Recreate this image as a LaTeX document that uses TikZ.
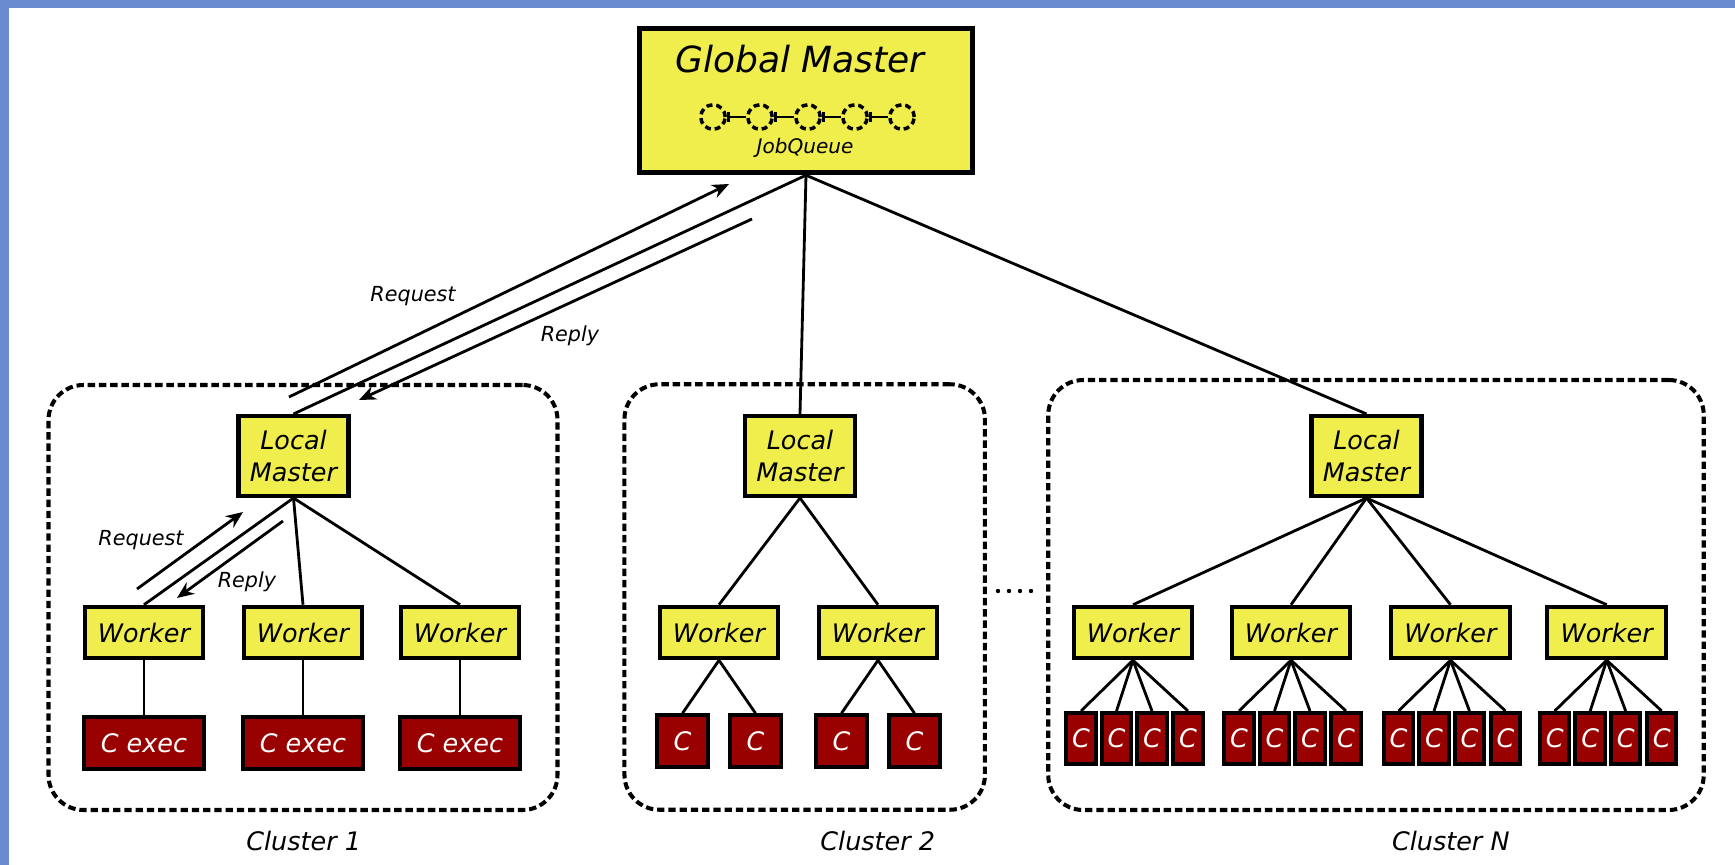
\documentclass[tikz,border=0pt]{standalone}
\usepackage{fontspec}
\setmainfont{DejaVu Sans}
\usetikzlibrary{positioning,arrows.meta,calc}
\definecolor{uYellow}{HTML}{EFEE4C}
\definecolor{uRed}{HTML}{990000}
\definecolor{uFrame}{HTML}{6A8BD0}
\tikzset{
  blk/.style={draw, line width=1.15pt, align=center, inner sep=0pt,
              font=\fontsize{7.25}{9.1}\selectfont\itshape},
  master/.style={blk, fill=uYellow, minimum width=11mm, minimum height=8mm},
  worker/.style={blk, fill=uYellow, minimum width=11.85mm, minimum height=5.15mm},
  cexec/.style={blk, fill=uRed, text=white, minimum width=12mm, minimum height=5.2mm},
  csq/.style={cexec, minimum width=5.1mm, minimum height=5.15mm},
  cnar/.style={cexec, minimum width=2.95mm, minimum height=5.1mm},
  gm/.style={draw, line width=1.4pt, fill=uYellow, minimum width=33.35mm,
             minimum height=14.45mm},
  qslot/.style={circle, draw, line width=1pt, dash pattern=on 1.7pt off 1.1pt,
                minimum size=2.45mm, inner sep=0pt},
  qlink/.style={{Bar[width=2.6pt]}-, line width=0.75pt},
  link/.style={line width=0.8pt},
  flow/.style={-{Stealth[length=4.8pt, width=4pt]}, line width=0.8pt},
  cluster/.style={draw, line width=1.15pt, dash pattern=on 2.1pt off 1.1pt,
                  rounded corners=3.5mm},
  lbl/.style={font=\fontsize{5.9}{7}\selectfont\itshape, inner sep=0pt, anchor=base},
  clab/.style={font=\fontsize{7.25}{9}\selectfont\itshape, inner sep=0pt, anchor=base},
}

\begin{document}
\begin{tikzpicture}[x=0.1mm, y=-0.1mm]

\fill[white] (0,0) rectangle (1735,865);
\useasboundingbox (0,0) rectangle (1735,865);
\fill[uFrame] (0,0) rectangle (1735,8);
\fill[uFrame] (0,0) rectangle (9,865);

%% -- clusters --------------------------------------------------------------
\node[cluster, minimum width=50.9mm, minimum height=42.5mm] (cl1) at (303,597.5) {};
\node[cluster, minimum width=36.05mm, minimum height=42.55mm] (cl2) at (804.7,597) {};
\node[cluster, minimum width=65.55mm, minimum height=43mm] (cln) at (1376,595) {};

\node[clab] (cl1lab) at (303.7,850) {Cluster 1};
\node[clab] (cl2lab) at (877.8,850) {Cluster 2};
\node[clab] (clnlab) at (1450.8,850) {Cluster N};

\foreach \x in {998,1009,1020,1031} \fill (\x,591) circle (2.2);

%% -- global master ---------------------------------------------------------
\node[gm] (gm) at (806,100.5) {};
\node[font=\fontsize{10.25}{12}\selectfont\itshape, inner sep=0pt, anchor=base]
  (gmt) at (800,73) {Global Master};
\foreach \i/\x in {1/713,2/760,3/808,4/855,5/902}
  \node[qslot] (q\i) at (\x,117) {};
\foreach \i/\j in {1/2,2/3,3/4,4/5}
  \draw[qlink] (q\i) -- (q\j);
\node[font=\fontsize{5.7}{7}\selectfont\itshape, inner sep=0pt, anchor=base]
  (jq) at (805,153) {JobQueue};

%% -- local masters ---------------------------------------------------------
\node[master] (lm1) at (293.5,456) {Local\\Master};
\node[master] (lm2) at (800,456) {Local\\Master};
\node[master] (lmn) at (1366.5,456) {Local\\Master};

\draw[link] (gm.south) -- (lm1.north);
\draw[link] (gm.south) -- (lm2.north);
\draw[link] (gm.south) -- (lmn.north);

\coordinate (rqA) at (289,397);
\coordinate (rqB) at (729,184);
\coordinate (rpA) at (752,219);
\coordinate (rpB) at (359,400);
\draw[flow] (rqA) -- (rqB);
\draw[flow] (rpA) -- (rpB);
\node[lbl] (rq0) at (413,301.7) {Request};
\node[lbl] (rp0) at (570,341.7) {Reply};

%% -- cluster 1 -------------------------------------------------------------
\foreach \k/\x in {1/144,2/303,3/460} {
  \node[worker] (w1\k) at (\x,632.5) {Worker};
  \node[cexec] (ce\k) at (\x,743) {C exec};
  \draw[link] (lm1.south) -- (w1\k.north);
  \draw[link] (w1\k.south) -- (ce\k.north);
}
\coordinate (rq1A) at (137,589);
\coordinate (rq1B) at (243,512);
\coordinate (rp1A) at (283,521);
\coordinate (rp1B) at (177,598);
\draw[flow] (rq1A) -- (rq1B);
\draw[flow] (rp1A) -- (rp1B);
\node[lbl] (rq1) at (141,545) {Request};
\node[lbl] (rp1) at (247,587) {Reply};

%% -- cluster 2 -------------------------------------------------------------
\foreach \k/\x in {1/719,2/878} {
  \node[worker] (w2\k) at (\x,632.5) {Worker};
  \draw[link] (lm2.south) -- (w2\k.north);
  \foreach \j/\dx in {1/-36.5,2/36.5} {
    \node[csq] (c2\k\j) at ({\x+(\dx)},741) {C};
    \draw[link] (w2\k.south) -- (c2\k\j.north);
  }
}

%% -- cluster N -------------------------------------------------------------
\foreach \k/\x in {1/1133,2/1291,3/1450.5,4/1606.7} {
  \node[worker] (wn\k) at (\x,632.5) {Worker};
  \draw[link] (lmn.south) -- (wn\k.north);
  \foreach \j/\dx in {1/-52,2/-16.5,3/19,4/55} {
    \node[cnar] (cn\k\j) at ({\x+(\dx)},738.5) {C};
    \draw[link] (wn\k.south) -- (cn\k\j.north);
  }
}

\end{tikzpicture}
\end{document}
